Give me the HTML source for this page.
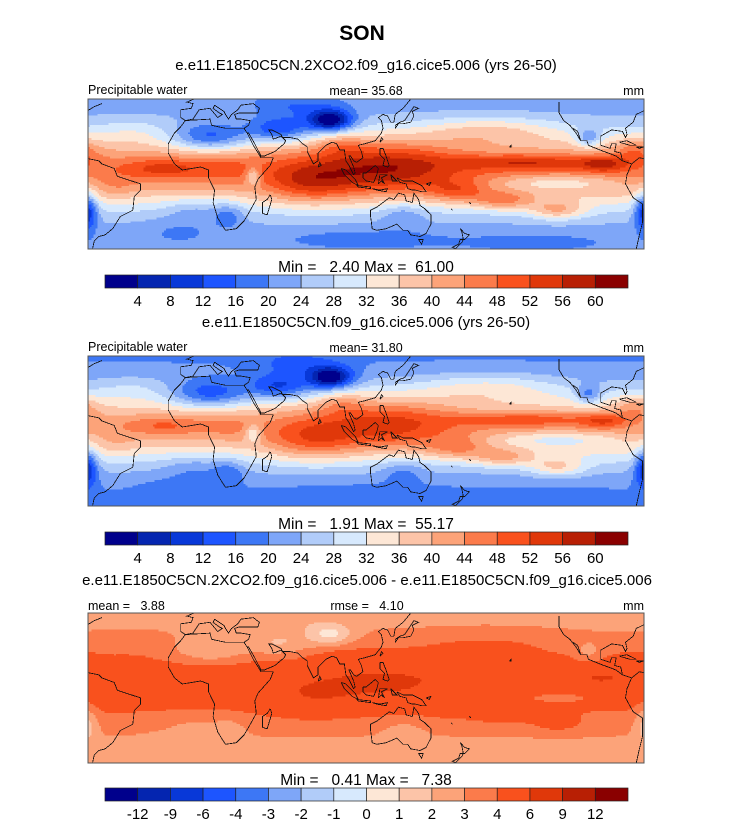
<!DOCTYPE html>
<html><head><meta charset="utf-8"><style>
body{margin:0;background:#fff;}
svg text{font-family:"Liberation Sans",sans-serif;fill:#000;}
</style></head><body>
<svg id="root" width="733" height="824" viewBox="0 0 733 824" xmlns="http://www.w3.org/2000/svg">
<text x="362" y="40" font-size="21" font-weight="bold" text-anchor="middle">SON</text>
<text x="366" y="70" font-size="15" text-anchor="middle">e.e11.E1850C5CN.2XCO2.f09_g16.cice5.006 (yrs 26-50)</text>
<text x="88" y="94" font-size="12.5">Precipitable water</text>
<text x="366" y="95" font-size="12.5" text-anchor="middle">mean=  35.68</text>
<text x="644" y="95" font-size="12.5" text-anchor="end">mm</text>
<text x="366" y="272" font-size="15.5" text-anchor="middle" xml:space="preserve">Min =   2.40 Max =  61.00</text>
<text x="366" y="327" font-size="15" text-anchor="middle">e.e11.E1850C5CN.f09_g16.cice5.006 (yrs 26-50)</text>
<text x="88" y="351" font-size="12.5">Precipitable water</text>
<text x="366" y="352" font-size="12.5" text-anchor="middle">mean=  31.80</text>
<text x="644" y="352" font-size="12.5" text-anchor="end">mm</text>
<text x="366" y="529" font-size="15.5" text-anchor="middle" xml:space="preserve">Min =   1.91 Max =  55.17</text>
<text x="367" y="585" font-size="15" text-anchor="middle">e.e11.E1850C5CN.2XCO2.f09_g16.cice5.006 - e.e11.E1850C5CN.f09_g16.cice5.006</text>
<text x="88" y="610" font-size="12.5" xml:space="preserve">mean =   3.88</text>
<text x="367" y="610" font-size="12.5" text-anchor="middle" xml:space="preserve">rmse =   4.10</text>
<text x="644" y="610" font-size="12.5" text-anchor="end">mm</text>
<text x="366" y="785" font-size="15.5" text-anchor="middle" xml:space="preserve">Min =   0.41 Max =   7.38</text>
<g id="maps"></g>
</svg>
<script>
const pwLevels=[4,8,12,16,20,24,28,32,36,40,44,48,52,56,60];
const diffLevels=[-12,-9,-6,-4,-3,-2,-1,0,1,2,3,4,6,9,12];
const diffTicks=["-12","-9","-6","-4","-3","-2","-1","0","1","2","3","4","6","9","12"];
const colors=["#00008c","#0425b0","#0838d8","#1d55ff","#3d77f5","#7ea6f8","#b1ccf9","#d7e9fd","#fde7d6","#fcc4a8","#fca379","#fb7b4b","#f9511d","#e0380a","#b81f04","#8a0000"];
// field bumps: lon, lat, lon-spread, lat-spread, amplitude (mm)
const bumpLon=[125,75,215,265,170,200,235,235,-20,20,88,10,55,65,22,135,-69,0,190,285,255,38,-50,95,-40,-10,110,220];
const bumpLat=[6,-5,9,8,-10,-16,-22,-4,5,5,36,25,30,45,-25,-25,-22,-22,30,17,25,0,-8,20,30,-35,-40,-42];
const bumpSLon=[45,30,45,15,20,20,18,40,25,20,14,25,20,25,10,14,6,20,45,12,8,5,12,15,25,25,50,50];
const bumpSLat=[18,14,5,5,7,6,6,5,6,8,7,9,8,8,8,8,12,8,9,8,6,6,8,8,8,8,6,6];
const bumpAmp=[14,12,11,11,10,12,12,-9,8,4,-26,-16,-15,-6,-7,-6,-18,-5,9,8,-12,-12,3,6,3,-3,-4,-3];
const ratio2=1.11;
const coasts=[
[[-17,15],[-17,21],[-13,28],[-9,32],[-6,36],[10,37],[11,33],[20,31],[30,31],[32,31],[34,28],[38,20],[43,12],[51,12],[49,7],[41,-2],[39,-7],[40,-15],[35,-24],[32,-29],[27,-34],[20,-35],[18,-32],[15,-27],[12,-17],[13,-9],[9,-1],[9,4],[4,6],[-2,5],[-8,4],[-13,8],[-17,15]],
[[32,31],[35,33],[36,36],[30,37],[27,37],[26,40],[29,41],[41,41],[42,44],[38,47],[30,46],[28,43],[24,40],[22,37],[20,40],[19,42],[13,46],[12,44],[16,41],[18,40],[15,38],[10,44],[3,43],[-1,37],[-6,36],[-9,38],[-9,43],[-2,44],[-1,47],[-5,48],[2,51]],
[[34,28],[35,28],[39,21],[43,13],[45,13],[52,16],[58,21],[59,23],[56,26],[51,24],[50,27],[48,30],[50,30],[56,27],[57,25],[62,25],[67,24],[70,21],[73,19],[73,16],[77,8],[80,10],[80,15],[85,20],[89,22],[92,21],[94,17],[97,17],[98,10],[100,7],[103,1],[104,2],[103,6],[100,13],[101,13],[103,10],[105,9],[109,12],[108,16],[106,20],[110,21],[117,23],[121,28],[122,31],[121,36],[119,38],[122,40],[125,39],[127,35],[129,35],[130,40],[135,44],[140,50]],
[[80,6],[82,7],[81,9],[80,6]],
[[130,31],[132,34],[135,34],[140,35],[142,39],[141,42],[145,44],[142,45],[140,42],[136,36],[133,35],[130,33],[130,31]],
[[120,22],[121,25],[122,24],[120,22]],
[[95,5],[98,4],[104,-2],[106,-6],[102,-4],[97,1],[95,5]],
[[105,-6],[114,-7],[114,-8],[106,-7],[105,-6]],
[[115,-8],[120,-9],[125,-8],[124,-10],[118,-9],[115,-8]],
[[109,2],[111,2],[117,7],[119,5],[118,1],[116,-4],[111,-3],[109,-1],[109,2]],
[[119,-5],[120,1],[125,1],[121,-1],[123,-5],[121,-3],[119,-5]],
[[127,1],[128,-3],[131,-3],[127,1]],
[[120,18],[122,18],[124,13],[126,7],[125,6],[122,7],[123,11],[120,14],[120,18]],
[[131,-1],[135,-3],[141,-3],[147,-6],[150,-10],[147,-10],[143,-9],[141,-9],[138,-8],[137,-5],[133,-4],[131,-1]],
[[150,-5],[153,-4],[152,-6],[150,-5]],
[[114,-22],[114,-26],[115,-34],[118,-35],[124,-34],[131,-31],[135,-35],[138,-35],[140,-38],[146,-39],[150,-37],[153,-31],[153,-25],[149,-21],[146,-19],[145,-15],[142,-11],[141,-17],[137,-16],[136,-12],[132,-11],[129,-15],[126,-14],[122,-17],[118,-20],[114,-22]],
[[145,-41],[148,-41],[147,-44],[145,-41]],
[[172,-34],[175,-37],[178,-38],[175,-41],[172,-41],[171,-44],[167,-46],[169,-47],[173,-43],[174,-41],[173,-36],[172,-34]],
[[166,-21],[167,-22],[166,-21]],[[178,-17],[179,-18],[178,-17]],
[[49,-12],[50,-15],[47,-25],[44,-24],[44,-17],[47,-15],[49,-12]],
[[-62,10],[-60,8],[-52,5],[-50,0],[-44,-2],[-35,-5],[-35,-9],[-39,-13],[-40,-22],[-48,-26],[-53,-34],[-58,-38],[-62,-39],[-65,-42],[-66,-47]],
[[-62,10],[-72,12],[-77,8],[-80,1],[-81,-5],[-76,-14],[-70,-18],[-70,-30],[-72,-38],[-74,-47]],
[[-77,8],[-80,9],[-83,10],[-87,13],[-92,15],[-95,16],[-105,20],[-106,23],[-110,23],[-112,29],[-115,31]],
[[-110,23],[-113,28],[-117,33],[-121,36],[-124,41],[-124,48]],
[[-83,10],[-84,15],[-88,16],[-87,21],[-90,21],[-91,18],[-97,20],[-97,26],[-90,30],[-83,29],[-81,25],[-80,27],[-81,31],[-76,35],[-74,40],[-70,42],[-65,45],[-60,47]],
[[-85,22],[-80,23],[-74,20],[-78,20],[-85,22]],[[-74,19],[-69,19],[-72,18],[-74,19]],
[[-156,19],[-155,20],[-155,19],[-156,19]]
];
const P={x:88,w:556,h:150,lon0:-69,latTop:50};
const k=P.w/360;
function xOf(lon){return P.x+(lon-P.lon0)*k;}
function yOf(top,lat){return top+(P.latTop-lat)*k;}
function wrap(d){return ((d%360)+540)%360-180;}
function pw(lon,lat){
  let v=21+25*Math.exp(-Math.pow((lat-4)/24,2));
  for(let i=0;i<bumpLon.length;i++){
    const dl=wrap(lon-bumpLon[i])/bumpSLon[i], dt=(lat-bumpLat[i])/bumpSLat[i];
    v+=bumpAmp[i]*Math.exp(-dl*dl-dt*dt);
  }
  return v;
}
function cls(v,lv){let c=0;while(c<lv.length&&v>=lv[c])c++;return c;}
const NS='http://www.w3.org/2000/svg';
const maps=document.getElementById('maps');
function mk(t,a){const e=document.createElementNS(NS,t);for(const q in a)e.setAttribute(q,a[q]);return e;}
function drawPanel(top,name,fn,lv){
  const g=mk('g',{});
  
  
  const cp=mk('clipPath',{id:'cp'+top});cp.appendChild(mk('rect',{x:P.x,y:top,width:P.w,height:P.h}));g.appendChild(cp);
  const f=mk('g',{'clip-path':'url(#cp'+top+')','shape-rendering':'crispEdges'});
  
  
  const step=1.2, nx=Math.ceil(360/step), ny=Math.ceil(P.h/(step*k))+1;
  for(let j=0;j<ny;j++){
    const lat=P.latTop-(j+0.5)*step;
    let run=-1,start=0;
    for(let i=0;i<=nx;i++){
      const c=i<nx?cls(fn(P.lon0+(i+0.5)*step,lat),lv):-2;
      if(c!==run){
        if(run>=0){const r=mk('rect',{x:(P.x+start*step*k).toFixed(2),y:(top+j*step*k).toFixed(2),width:((i-start)*step*k+0.6).toFixed(2),height:(step*k+0.6).toFixed(2),fill:colors[run]});f.appendChild(r);}
        run=c;start=i;
      }
    }
  }
  const cg=mk('g',{fill:'none',stroke:'#111','stroke-width':'0.8'});
  
  
  coasts.forEach(line=>{[-360,0,360].forEach(sh=>{
    const d=line.map(p=>xOf(p[0]+sh).toFixed(1)+','+yOf(top,p[1]).toFixed(1)).join(' ');
    cg.appendChild(mk('polyline',{points:d}));
  });});
  f.appendChild(cg);
  g.appendChild(f);
  g.appendChild(mk('rect',{x:P.x,y:top,width:P.w,height:P.h,fill:'none',stroke:'#555','stroke-width':'1'}));
  maps.appendChild(g);
}
function drawBar(top,name,labels){
  const g=mk('g',{});
  
  
  const x0=105,w=523,bw=w/16;
  for(let i=0;i<16;i++){
    const r=mk('rect',{x:x0+i*bw,y:top,width:bw,height:13,fill:colors[i],stroke:'#222','stroke-width':'0.7'});
    
    
    g.appendChild(r);
  }
  labels.forEach((t,i)=>{
    const tx=mk('text',{x:x0+(i+1)*bw,y:top+31,'font-size':'15','text-anchor':'middle'});
    tx.textContent=t;
    
    
    g.appendChild(tx);
  });
  maps.appendChild(g);
}
drawPanel(99,'panel1-map',pw,pwLevels);
drawPanel(356,'panel2-map',(lo,la)=>pw(lo,la)/ratio2,pwLevels);
drawPanel(613,'panel3-map',(lo,la)=>0.09*pw(lo,la)+0.8,diffLevels);
drawBar(275,'colorbar1',pwLevels.map(String));
drawBar(532,'colorbar2',pwLevels.map(String));
drawBar(788,'colorbar3',diffTicks);
</script>
</body></html>
